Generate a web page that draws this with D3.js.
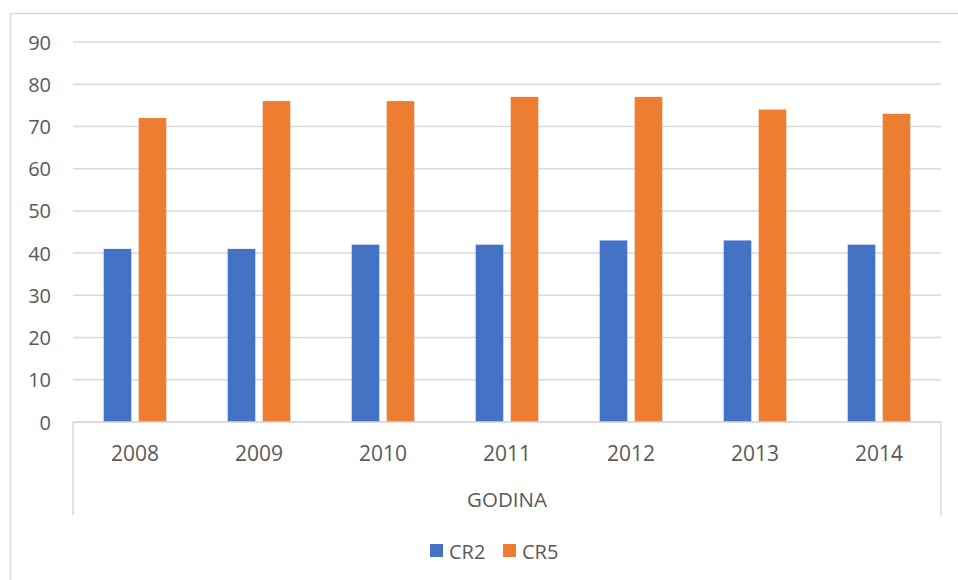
<!DOCTYPE html>
<html>
<head>
<meta charset="utf-8">
<script src="https://cdn.jsdelivr.net/npm/d3@7"></script>
<style>
  body { margin: 0; background: #fff; }
  text { font-family: "Open Sans", "Liberation Sans", sans-serif; fill: #595959; }
</style>
</head>
<body>
<svg id="chart" width="958" height="580"></svg>
<script>
// data
const years = ['2008', '2009', '2010', '2011', '2012', '2013', '2014'];
const seriesNames = ['CR2', 'CR5'];
const cr2 = [41, 41, 42, 42, 43, 43, 42];
const cr5 = [72, 76, 76, 77, 77, 74, 73];
const yTicks = [0, 10, 20, 30, 40, 50, 60, 70, 80, 90];
const axisTitle = 'GODINA';
const colors = {CR2: '#4472c4', CR5: '#ed7d31'};

const svg = d3.select('#chart');
const grid = '#d9d9d9';

// outer chart frame (only top and left edges are inside the window)
svg.append('rect')
  .attr('x', 10.5).attr('y', 13.5)
  .attr('width', 1000).attr('height', 1000)
  .attr('fill', 'none').attr('stroke', grid).attr('stroke-width', 1.5);

const plot = {left: 73, right: 941, top: 42, bottom: 422};

const y = d3.scaleLinear().domain([0, 90]).range([plot.bottom, plot.top]);
const x = d3.scaleBand().domain(years).range([plot.left, plot.right]).padding(0);
const half = 31.3;
const xs = d3.scaleBand().domain(seriesNames)
  .range([x.bandwidth() / 2 - half, x.bandwidth() / 2 + half])
  .paddingInner(0.2114).paddingOuter(0);

// gridlines
svg.append('g').selectAll('line').data(yTicks).join('line')
  .attr('x1', plot.left).attr('x2', plot.right)
  .attr('y1', d => y(d)).attr('y2', d => y(d))
  .attr('stroke', grid).attr('stroke-width', 1.5);

// y tick labels
svg.append('g').selectAll('text').data(yTicks).join('text')
  .attr('x', 51).attr('y', d => y(d))
  .attr('text-anchor', 'end').attr('dominant-baseline', 'central')
  .style('font-size', '20px')
  .text(d => d);

// bars
const rows = years.map((yr, i) => ({year: yr, CR2: cr2[i], CR5: cr5[i]}));
const groups = svg.append('g').selectAll('g').data(rows).join('g')
  .attr('transform', d => `translate(${x(d.year)},0)`);
groups.selectAll('rect').data(d => seriesNames.map(k => ({key: k, value: d[k]}))).join('rect')
  .attr('x', d => xs(d.key))
  .attr('width', xs.bandwidth())
  .attr('y', d => y(d.value))
  .attr('height', d => y(0) - y(d.value))
  .attr('fill', d => colors[d.key]);

// baseline over the bars
svg.append('line')
  .attr('x1', plot.left).attr('x2', plot.right)
  .attr('y1', y(0)).attr('y2', y(0))
  .attr('stroke', grid).attr('stroke-width', 1.5);

// category axis edges
[plot.left, plot.right].forEach(px => {
  svg.append('line')
    .attr('x1', px).attr('x2', px)
    .attr('y1', plot.bottom).attr('y2', 515)
    .attr('stroke', grid).attr('stroke-width', 1.5);
});

// year labels
svg.append('g').selectAll('text').data(years).join('text')
  .attr('x', d => x(d) + x.bandwidth() / 2).attr('y', 453)
  .attr('text-anchor', 'middle').attr('dominant-baseline', 'central')
  .style('font-size', '21px')
  .text(d => d);

// axis group title
svg.append('text')
  .attr('x', (plot.left + plot.right) / 2).attr('y', 499)
  .attr('text-anchor', 'middle').attr('dominant-baseline', 'central')
  .style('font-size', '20.5px')
  .text(axisTitle);

// legend
const legendItems = [{key: 'CR2', x: 430}, {key: 'CR5', x: 503}];
const lg = svg.append('g').selectAll('g').data(legendItems).join('g')
  .attr('transform', d => `translate(${d.x},544)`);
lg.append('rect').attr('width', 13).attr('height', 13).attr('fill', d => colors[d.key]);
lg.append('text').attr('x', 19).attr('y', 7)
  .attr('dominant-baseline', 'central')
  .style('font-size', '20px')
  .text(d => d.key);
</script>
</body>
</html>
